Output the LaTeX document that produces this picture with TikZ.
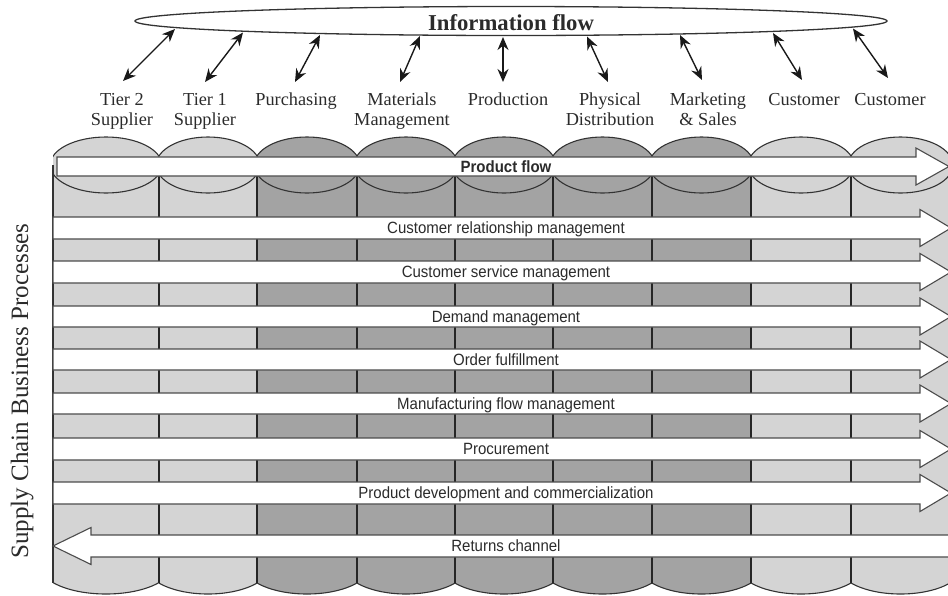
\documentclass[tikz,border=0pt]{standalone}
\usepackage{fontspec}
\setmainfont{Liberation Serif}
\newfontfamily\bandfont[FakeStretch=0.92]{Liberation Sans}
\usetikzlibrary{arrows.meta,shapes.geometric}

\definecolor{colLight}{gray}{0.83}
\definecolor{colDark}{gray}{0.64}
\definecolor{edge}{gray}{0.2}
\definecolor{bandedge}{gray}{0.3}
\definecolor{inktext}{gray}{0.17}

\begin{document}
\begin{tikzpicture}[x=1pt,y=-1pt,
  band/.style={fill=white,draw=bandedge,line width=1.1pt,line join=miter},
  bandtext/.style={font=\bandfont\fontsize{16.3}{18}\selectfont,anchor=base,inner sep=0pt,text=inktext},
  role/.style={font=\fontsize{18.3}{20}\selectfont,align=center,anchor=base,inner sep=0pt,text=inktext},
  flowarrow/.style={line width=1.4pt,draw=black!90,{Stealth[length=13pt,width=11pt]}-{Stealth[length=13pt,width=11pt]}},
  sep/.style={line width=2.4pt,draw=black!85},
  rim/.style={draw=edge,line width=1.1pt},
]
\useasboundingbox (0,0) rectangle (948,595);
\clip (0,0) rectangle (948,595);

% ---- cylinders (one per supply-chain member)
\foreach \l/\r/\c in {53/159/colLight,159/257/colLight,257/357/colDark,357/455/colDark,455/553/colDark,553/652/colDark,652/751/colDark,751/851/colLight,851/950/colLight}{
  \pgfmathsetmacro\cx{(\l+\r)/2}
  \pgfmathsetmacro\hw{(\r-\l)/2}
  \begin{scope}
    \clip (\l,0) rectangle (\r,620);
    \fill[\c] (\l,165) rectangle (\r,566);
    \begin{scope}
      \clip (\l,566) rectangle (\r,620);
      \filldraw[fill=\c,rim] (\cx,566) ellipse[x radius=\hw+12.8, y radius=28];
    \end{scope}
    \filldraw[fill=\c,rim] (\cx,165) ellipse[x radius=\hw+2.8, y radius=28];
  \end{scope}
}
\draw[rim] (53,165) -- (53,583);
\foreach \x in {159,257,357,455,553,652,751,851}
  \draw[sep] (\x,170) -- (\x,583);

% ---- process bands
\draw[band] (57,157) -- (916,157) -- (916,148) -- (949,166.5) -- (916,185) -- (916,176) -- (57,176) -- cycle;
\foreach \t/\b in {217/239,261/283,306/327,349/370,393/414,438/460,482/504}{
  \pgfmathsetmacro\m{(\t+\b)/2}
  \draw[band] (53,\t) -- (920,\t) -- (920,\m-18.5) -- (951,\m) -- (920,\m+18.5) -- (920,\b) -- (53,\b) -- cycle;
}
\draw[band] (960,535) -- (91,535) -- (91,527.5) -- (53,546) -- (91,564.5) -- (91,557) -- (960,557);

\node[bandtext,font=\bandfont\bfseries\fontsize{16.3}{18}\selectfont] (pflow) at (506,172.3) {Product flow};
\node[bandtext] (crm) at (506,233.8) {Customer relationship management};
\node[bandtext] (csm) at (506,277.8) {Customer service management};
\node[bandtext] (dem) at (506,322.3) {Demand management};
\node[bandtext] (ord) at (506,365.3) {Order fulfillment};
\node[bandtext] (mfm) at (506,409.3) {Manufacturing flow management};
\node[bandtext] (proc) at (506,454.8) {Procurement};
\node[bandtext] (pdc) at (506,498.8) {Product development and commercialization};
\node[bandtext] (ret) at (506,551.8) {Returns channel};

% ---- side title
\node[font=\fontsize{25}{27}\selectfont,rotate=90,anchor=base,inner sep=0pt,text=inktext] (side) at (28,391) {Supply Chain Business Processes};

% ---- information flow
\node[ellipse,draw=edge,line width=1.3pt,fill=white,minimum width=752pt,minimum height=29pt,inner sep=0pt] (info) at (511,21) {};
\node[font=\bfseries\fontsize{22.7}{24}\selectfont,anchor=base,inner sep=0pt,text=inktext] (infolabel) at (511,30) {Information flow};

% ---- members (base anchor sits on the last line)
\node[role] (m1) at (122,125) {Tier 2\\Supplier};
\node[role] (m2) at (205,125) {Tier 1\\Supplier};
\node[role] (m3) at (296,105) {Purchasing};
\node[role] (m4) at (402,125) {Materials\\Management};
\node[role] (m5) at (508,105) {Production};
\node[role] (m6) at (610,125) {Physical\\Distribution};
\node[role] (m7) at (708,125) {Marketing\\\& Sales};
\node[role] (m8) at (804,105) {Customer};
\node[role] (m9) at (890,105) {Customer};

% ---- information links
\foreach \i/\tx/\ty/\bx/\by in {1/175/29/123/81,2/243/32.5/205/82,3/320/35/295/82,4/420/36/400/82,5/503/37/503/82,6/587/36.5/608/82,7/680/35/702/80,8/773/33/802/80,9/853/28.5/888/78}{
  \coordinate (it\i) at (\tx,\ty);
  \coordinate (ib\i) at (\bx,\by);
  \draw[flowarrow] (it\i) -- (ib\i);
}
\end{tikzpicture}
\end{document}
